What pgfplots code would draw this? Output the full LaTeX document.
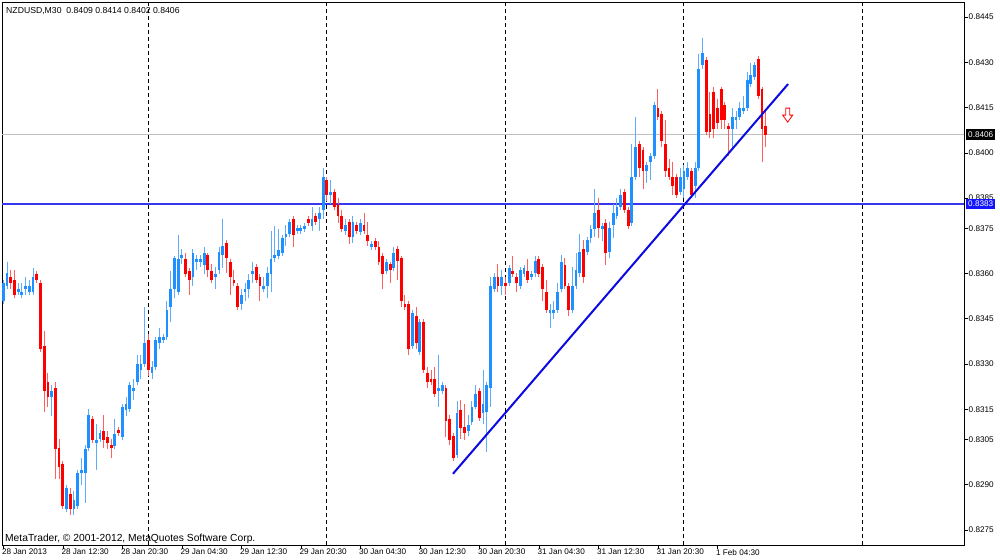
\documentclass[border=0pt]{standalone}
\usepackage{pgfplots}
\pgfplotsset{compat=1.18}
\usepackage{pgfplotstable}
\usepackage{fontspec}
\setmainfont{Liberation Sans}

\definecolor{bullbody}{RGB}{30,144,255}
\definecolor{bullwick}{RGB}{95,172,255}
\definecolor{bearbody}{RGB}{255,0,0}
\definecolor{bearwick}{RGB}{255,95,95}
\definecolor{hline}{RGB}{55,55,238}
\definecolor{trend}{RGB}{10,10,225}
\definecolor{bidgray}{RGB}{192,192,192}
\definecolor{lblblue}{RGB}{20,20,255}

\pgfdeclareplotmark{sellarrow}{%
  \pgfpathmoveto{\pgfpoint{-2bp}{7bp}}%
  \pgfpathlineto{\pgfpoint{2bp}{7bp}}%
  \pgfpathlineto{\pgfpoint{2bp}{0bp}}%
  \pgfpathlineto{\pgfpoint{5bp}{0bp}}%
  \pgfpathlineto{\pgfpoint{0bp}{-7bp}}%
  \pgfpathlineto{\pgfpoint{-5bp}{0bp}}%
  \pgfpathlineto{\pgfpoint{-2bp}{0bp}}%
  \pgfpathclose
  \pgfusepathqfillstroke
}

% bullish candles (close > open)
\pgfplotstableread{
n O H L C
1 0.8351 0.8358 0.8350 0.8357
2 0.8356 0.8364 0.8355 0.8360
5 0.8354 0.8357 0.8353 0.8355
6 0.8353 0.8357 0.8352 0.8354
7 0.8355 0.8359 0.8353 0.8356
8 0.8354 0.8358 0.8353 0.8356
9 0.8354 0.8362 0.8353 0.8359
14 0.8319 0.8323 0.8313 0.8321
18 0.8282 0.8290 0.8281 0.8289
20 0.8282 0.8288 0.8280 0.8285
21 0.8283 0.8295 0.8282 0.8294
22 0.8294 0.8299 0.8290 0.8295
23 0.8294 0.8303 0.8284 0.8302
24 0.8302 0.8315 0.8301 0.8313
26 0.8304 0.8310 0.8295 0.8305
27 0.8305 0.8308 0.8304 0.8307
31 0.8303 0.8312 0.8302 0.8307
33 0.8306 0.8317 0.8305 0.8316
34 0.8315 0.8319 0.8313 0.8317
35 0.8315 0.8324 0.8314 0.8323
36 0.8321 0.8325 0.8318 0.8322
37 0.8324 0.8333 0.8323 0.8330
38 0.8328 0.8333 0.8325 0.8330
39 0.8330 0.8349 0.8329 0.8337
41 0.8327 0.8331 0.8325 0.8329
42 0.8329 0.8339 0.8328 0.8338
43 0.8337 0.8342 0.8335 0.8339
44 0.8338 0.8340 0.8337 0.8339
45 0.8339 0.8351 0.8338 0.8348
46 0.8349 0.8361 0.8344 0.8355
47 0.8355 0.8366 0.8352 0.8365
48 0.8354 0.8373 0.8353 0.8365
49 0.8365 0.8368 0.8363 0.8366
52 0.8359 0.8368 0.8356 0.8367
53 0.8364 0.8366 0.8361 0.8365
54 0.8364 0.8366 0.8362 0.8365
55 0.8363 0.8369 0.8360 0.8367
58 0.8359 0.8362 0.8355 0.8360
59 0.8361 0.8369 0.8360 0.8367
60 0.8366 0.8378 0.8362 0.8369
65 0.8350 0.8355 0.8348 0.8353
66 0.8354 0.8357 0.8351 0.8355
67 0.8355 0.8360 0.8352 0.8358
68 0.8360 0.8364 0.8357 0.8361
71 0.8355 0.8359 0.8354 0.8356
72 0.8356 0.8362 0.8352 0.8360
73 0.8360 0.8374 0.8354 0.8365
74 0.8365 0.8376 0.8364 0.8366
75 0.8366 0.8375 0.8365 0.8368
76 0.8367 0.8373 0.8366 0.8372
77 0.8372 0.8376 0.8369 0.8373
78 0.8373 0.8378 0.8372 0.8377
80 0.8374 0.8376 0.8373 0.8375
81 0.8374 0.8376 0.8373 0.8375
82 0.8375 0.8377 0.8374 0.8376
84 0.8376 0.8382 0.8374 0.8378
86 0.8378 0.8382 0.8374 0.8380
87 0.8381 0.8395 0.8378 0.8392
89 0.8386 0.8391 0.8383 0.8387
93 0.8374 0.8378 0.8373 0.8376
95 0.8372 0.8379 0.8370 0.8377
97 0.8374 0.8378 0.8373 0.8377
100 0.8369 0.8371 0.8368 0.8370
104 0.8361 0.8365 0.8360 0.8364
106 0.8362 0.8369 0.8361 0.8367
111 0.8336 0.8348 0.8335 0.8347
113 0.8334 0.8345 0.8333 0.8344
118 0.8321 0.8333 0.8316 0.8322
119 0.8321 0.8324 0.8320 0.8323
123 0.8300 0.8318 0.8299 0.8314
126 0.8308 0.8313 0.8306 0.8310
127 0.8311 0.8318 0.8310 0.8316
128 0.8316 0.8323 0.8315 0.8320
130 0.8314 0.8328 0.8310 0.8317
131 0.8314 0.8324 0.8301 0.8323
132 0.8322 0.8359 0.8316 0.8356
133 0.8355 0.8360 0.8354 0.8359
135 0.8356 0.8361 0.8353 0.8359
137 0.8357 0.8363 0.8356 0.8362
140 0.8356 0.8362 0.8355 0.8361
141 0.8360 0.8363 0.8359 0.8362
143 0.8359 0.8361 0.8358 0.8360
144 0.8360 0.8366 0.8359 0.8364
148 0.8347 0.8350 0.8342 0.8348
149 0.8347 0.8351 0.8345 0.8348
150 0.8348 0.8357 0.8347 0.8354
151 0.8355 0.8366 0.8354 0.8364
154 0.8348 0.8362 0.8347 0.8356
155 0.8356 0.8367 0.8355 0.8361
156 0.8360 0.8373 0.8359 0.8367
158 0.8367 0.8372 0.8366 0.8371
159 0.8372 0.8376 0.8370 0.8375
160 0.8375 0.8388 0.8372 0.8380
162 0.8375 0.8377 0.8371 0.8376
164 0.8367 0.8377 0.8365 0.8375
165 0.8376 0.8383 0.8372 0.8380
166 0.8379 0.8385 0.8378 0.8382
167 0.8382 0.8388 0.8381 0.8386
170 0.8377 0.8403 0.8376 0.8392
171 0.8392 0.8412 0.8391 0.8402
174 0.8394 0.8397 0.8390 0.8396
175 0.8397 0.8400 0.8391 0.8399
176 0.8399 0.8417 0.8398 0.8416
183 0.8387 0.8395 0.8386 0.8392
184 0.8388 0.8396 0.8385 0.8394
185 0.8392 0.8397 0.8391 0.8395
187 0.8389 0.8397 0.8385 0.8395
188 0.8395 0.8433 0.8394 0.8428
189 0.8429 0.8438 0.8428 0.8433
197 0.8408 0.8415 0.8401 0.8412
198 0.8411 0.8414 0.8408 0.8412
199 0.8412 0.8417 0.8411 0.8415
200 0.8414 0.8419 0.8413 0.8415
201 0.8415 0.8427 0.8414 0.8424
202 0.8423 0.8430 0.8422 0.8426
203 0.8425 0.8430 0.8424 0.8429
}\bull

% bearish candles (close < open)
\pgfplotstableread{
n O H L C
3 0.8359 0.8361 0.8355 0.8357
4 0.8358 0.8361 0.8352 0.8353
10 0.8360 0.8361 0.8357 0.8358
11 0.8357 0.8358 0.8334 0.8335
12 0.8336 0.8341 0.8314 0.8321
13 0.8324 0.8327 0.8316 0.8319
15 0.8322 0.8324 0.8292 0.8302
16 0.8302 0.8305 0.8292 0.8296
17 0.8297 0.8298 0.8282 0.8283
19 0.8287 0.8289 0.8280 0.8282
25 0.8312 0.8313 0.8304 0.8305
28 0.8308 0.8313 0.8302 0.8305
29 0.8306 0.8308 0.8302 0.8304
30 0.8303 0.8305 0.8299 0.8302
32 0.8308 0.8309 0.8306 0.8307
40 0.8338 0.8340 0.8326 0.8328
50 0.8365 0.8367 0.8359 0.8360
51 0.8361 0.8362 0.8353 0.8358
56 0.8366 0.8367 0.8359 0.8361
57 0.8361 0.8363 0.8357 0.8358
61 0.8370 0.8371 0.8360 0.8365
62 0.8364 0.8365 0.8353 0.8359
63 0.8358 0.8361 0.8356 0.8357
64 0.8356 0.8357 0.8348 0.8349
69 0.8362 0.8363 0.8357 0.8358
70 0.8359 0.8360 0.8351 0.8356
79 0.8378 0.8379 0.8369 0.8373
83 0.8378 0.8379 0.8376 0.8377
85 0.8379 0.8380 0.8376 0.8377
88 0.8391 0.8392 0.8384 0.8386
90 0.8387 0.8388 0.8381 0.8382
91 0.8383 0.8385 0.8377 0.8379
92 0.8379 0.8381 0.8374 0.8375
94 0.8377 0.8378 0.8370 0.8372
96 0.8376 0.8377 0.8373 0.8374
98 0.8376 0.8380 0.8373 0.8374
99 0.8373 0.8377 0.8369 0.8371
101 0.8371 0.8372 0.8368 0.8369
102 0.8369 0.8371 0.8363 0.8364
103 0.8366 0.8367 0.8355 0.8360
105 0.8363 0.8364 0.8357 0.8361
107 0.8368 0.8369 0.8358 0.8364
108 0.8365 0.8366 0.8349 0.8351
109 0.8350 0.8353 0.8348 0.8349
110 0.8350 0.8351 0.8333 0.8335
112 0.8346 0.8349 0.8335 0.8337
114 0.8344 0.8345 0.8327 0.8328
115 0.8327 0.8329 0.8322 0.8324
116 0.8325 0.8328 0.8323 0.8324
117 0.8325 0.8329 0.8319 0.8320
120 0.8322 0.8323 0.8306 0.8311
121 0.8312 0.8313 0.8303 0.8305
122 0.8306 0.8307 0.8298 0.8299
124 0.8315 0.8318 0.8305 0.8309
125 0.8309 0.8317 0.8305 0.8307
129 0.8321 0.8322 0.8311 0.8312
134 0.8359 0.8363 0.8354 0.8356
136 0.8357 0.8359 0.8353 0.8356
138 0.8361 0.8366 0.8359 0.8360
139 0.8359 0.8360 0.8354 0.8357
142 0.8361 0.8365 0.8357 0.8358
145 0.8365 0.8366 0.8359 0.8360
146 0.8362 0.8363 0.8351 0.8355
147 0.8354 0.8358 0.8347 0.8348
152 0.8363 0.8365 0.8355 0.8356
153 0.8356 0.8357 0.8346 0.8348
157 0.8368 0.8371 0.8357 0.8359
161 0.8381 0.8385 0.8372 0.8375
163 0.8377 0.8378 0.8363 0.8367
168 0.8387 0.8388 0.8380 0.8381
169 0.8381 0.8382 0.8375 0.8376
172 0.8403 0.8404 0.8392 0.8395
173 0.8401 0.8402 0.8388 0.8394
177 0.8415 0.8421 0.8411 0.8412
178 0.8413 0.8414 0.8402 0.8404
179 0.8403 0.8411 0.8392 0.8394
180 0.8395 0.8398 0.8391 0.8392
181 0.8392 0.8397 0.8386 0.8389
182 0.8392 0.8393 0.8385 0.8386
186 0.8394 0.8395 0.8385 0.8386
190 0.8431 0.8432 0.8406 0.8407
191 0.8413 0.8420 0.8405 0.8407
192 0.8420 0.8422 0.8405 0.8408
193 0.8415 0.8418 0.8408 0.8410
194 0.8421 0.8422 0.8408 0.8411
195 0.8416 0.8417 0.8408 0.8411
196 0.8409 0.8410 0.8399 0.8408
204 0.8431 0.8432 0.8418 0.8419
205 0.8421 0.8422 0.8397 0.8408
206 0.8409 0.8414 0.8402 0.8406
}\bear

\begin{document}
\begin{tikzpicture}
\fill[white] (0,0) rectangle (1000bp,560bp);
\useasboundingbox (0,0) rectangle (1000bp,560bp);
\begin{axis}[
  at={(2bp,15bp)}, anchor=south west,
  scale only axis, width=962bp, height=543bp,
  xmin=0.65, xmax=259.3, ymin=0.8270, ymax=0.8450,
  axis line style={black, line width=0.8bp},
  clip mode=individual,
  scaled y ticks=false, scaled x ticks=false,
  xtick={1,17,33,49,65,81,97,113,129,145,161,177,193},
  xticklabels={28 Jan 2013,28 Jan 12:30,28 Jan 20:30,29 Jan 04:30,29 Jan 12:30,29 Jan 20:30,30 Jan 04:30,30 Jan 12:30,30 Jan 20:30,31 Jan 04:30,31 Jan 12:30,31 Jan 20:30,1 Feb 04:30},
  ytick={0.8275,0.8290,0.8305,0.8315,0.8330,0.8345,0.8360,0.8375,0.8385,0.8400,0.8415,0.8430,0.8445},
  yticklabels={0.8275,0.8290,0.8305,0.8315,0.8330,0.8345,0.8360,0.8375,0.8385,0.8400,0.8415,0.8430,0.8445},
  xtick pos=bottom, ytick pos=right, yticklabel pos=right,
  tick align=outside, major tick length=4bp,
  tick style={black, line width=0.6bp},
  tick label style={font=\fontsize{8.2}{9.8}\selectfont},
  xticklabel style={anchor=north west, inner sep=0pt, xshift=-1.5bp},
  yticklabel style={anchor=west, inner sep=0pt, xshift=0.5bp},
  extra x ticks={40,88,136,184,232},
  extra x tick labels={},
  extra x tick style={xmajorgrids=true, major tick length=0pt,
     major grid style={black, line width=0.9bp, dash pattern=on 4bp off 3bp}},
]
% bid line and horizontal line
\addplot[bidgray, line width=0.9bp] coordinates {(0.65,0.8406) (259.3,0.8406)};
\addplot[hline, line width=1.6bp] coordinates {(0.65,0.8383) (259.3,0.8383)};
% wicks
\addplot[draw=none, mark=none, error bars/.cd, y dir=both, y explicit,
  error mark=none, error bar style={draw=bullwick, line width=1bp}]
  table[x=n, y expr={(\thisrow{H}+\thisrow{L})/2}, y error expr={(\thisrow{H}-\thisrow{L})/2}] {\bull};
\addplot[draw=none, mark=none, error bars/.cd, y dir=both, y explicit,
  error mark=none, error bar style={draw=bearwick, line width=1bp}]
  table[x=n, y expr={(\thisrow{H}+\thisrow{L})/2}, y error expr={(\thisrow{H}-\thisrow{L})/2}] {\bear};
% bodies
\addplot[draw=none, mark=none, error bars/.cd, y dir=both, y explicit,
  error mark=none, error bar style={draw=bullbody, line width=2.8bp}]
  table[x=n, y expr={(\thisrow{O}+\thisrow{C})/2}, y error expr={(\thisrow{C}-\thisrow{O})/2}] {\bull};
\addplot[draw=none, mark=none, error bars/.cd, y dir=both, y explicit,
  error mark=none, error bar style={draw=bearbody, line width=2.8bp}]
  table[x=n, y expr={(\thisrow{O}+\thisrow{C})/2}, y error expr={(\thisrow{O}-\thisrow{C})/2}] {\bear};
% trend line
\addplot[trend, line width=2bp] coordinates {(121.9,0.82936) (212.0,0.84228)};
% sell arrow
\addplot[only marks, mark=sellarrow, mark options={draw=red, fill=white, line width=0.8bp}] coordinates {(211.9,0.84125)};
\coordinate (bidpt) at (axis cs:259.3,0.8406);
\coordinate (hlpt) at (axis cs:259.3,0.8383);
\end{axis}
\node[anchor=west, xshift=2bp, fill=black, text=white, inner xsep=2bp, inner ysep=2.4bp,
  font=\fontsize{8.2}{9.8}\selectfont] at (bidpt) {0.8406};
\node[anchor=west, xshift=2bp, fill=lblblue, text=white, inner xsep=2bp, inner ysep=2bp,
  font=\fontsize{8.2}{9.8}\selectfont] at (hlpt) {0.8383};
\node[anchor=base west, inner sep=0pt, font=\fontsize{8.7}{10}\selectfont] at (6bp,546bp)
  {NZDUSD,M30\ \ 0.8409 0.8414 0.8402 0.8406};
\node[anchor=base west, inner sep=0pt, font=\fontsize{10.3}{12}\selectfont] at (5bp,19bp)
  {MetaTrader, © 2001-2012, MetaQuotes Software Corp.};
\end{tikzpicture}
\end{document}
